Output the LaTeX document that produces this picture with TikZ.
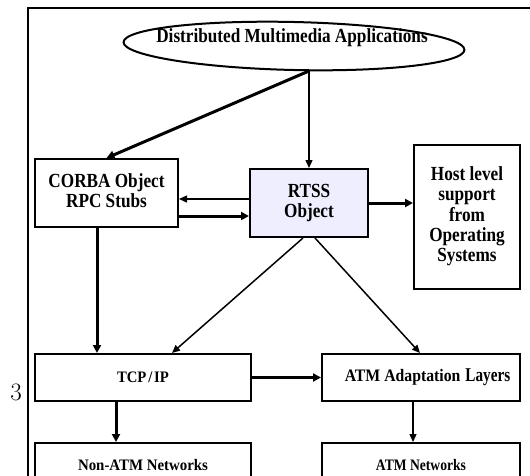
\documentclass[tikz,border=0pt]{standalone}
\usepackage{fontspec}
\setmainfont{Liberation Serif}
\newfontfamily\digitfont{Latin Modern Roman}
\usetikzlibrary{arrows.meta,shapes.geometric,calc}
\definecolor{rtssfill}{RGB}{238,238,255}
% bold, slightly condensed text block
\newcommand{\sqz}[1]{\scalebox{0.86}[1]{\begin{tabular}{@{}c@{}}#1\end{tabular}}}
\tikzset{
  blk/.style={draw, line width=2pt, rectangle, align=center},
  bigtxt/.style={font=\fontsize{20}{20}\selectfont\bfseries},
  smalltxt/.style={font=\fontsize{16}{17}\selectfont\bfseries},
  heavy/.style={line width=3pt, -{Triangle[length=8pt,width=8pt]}},
  medium/.style={line width=1.5pt, -{Triangle[length=8pt,width=7pt]}},
  light/.style={line width=1.3pt, -{Triangle[length=8pt,width=7pt]}},
}
\begin{document}
\begin{tikzpicture}[x=1pt,y=-1pt]
\useasboundingbox (0,0) rectangle (530,475);
\clip (0,0) rectangle (530,475);
% outer frame
\draw[line width=1.8pt] (28,490) -- (28,8) -- (545,8);
\node[font=\digitfont\fontsize{25}{25}\selectfont] (num) at (16,392) {3};

% top-level application layer
\node[draw, ellipse, rotate=-1.3, line width=2pt, minimum width=341pt, minimum height=48pt, inner sep=0pt] (app) at (294,46) {};
\node[bigtxt, inner sep=0pt] (apptxt) at (292,38) {\sqz{Distributed Multimedia Applications}};

% middleware boxes
\node[blk, bigtxt, minimum width=143pt, minimum height=68pt] (corba) at (106.5,193) {\sqz{CORBA Object\\RPC Stubs}};
\node[blk, bigtxt, fill=rtssfill, minimum width=118pt, minimum height=68pt] (rtss) at (309,203) {\sqz{RTSS\\Object}};
\node[blk, bigtxt, minimum width=106pt, minimum height=144pt] (host) at (467,217) {\sqz{Host level\\support\\from\\Operating\\Systems}};

% transport and network boxes
\node[blk, smalltxt, minimum width=216pt, minimum height=47pt] (tcp) at (143,377.5) {\scalebox{0.92}[1]{TCP\kern2pt/\kern2ptIP}};
\node[blk, smalltxt, minimum width=198pt, minimum height=47pt] (aal) at (421,377.5)
  {\hspace*{13pt}\scalebox{0.9}[1]{\fontsize{17.5}{18}\selectfont ATM Adaptation}\hspace{5pt}\scalebox{0.78}[1]{\fontsize{19.5}{20}\selectfont Layers}};
\node[blk, smalltxt, minimum width=216pt, minimum height=44pt] (nonatm) at (143,465) {\scalebox{0.93}[1]{Non-ATM Networks}};
\node[blk, smalltxt, minimum width=198pt, minimum height=44pt] (atmnet) at (421,465) {\scalebox{0.85}[1]{ATM Networks}};

% connectors
\draw[heavy] (rtss.north |- app.south) -- (corba.north);
\draw[light] (rtss.north |- app.south) -- (rtss.north);
\draw[light] (rtss.west |- 0,199) -- (corba.east |- 0,199);
\draw[heavy] (corba.east |- 0,216) -- (rtss.west |- 0,216);
\draw[heavy] (rtss.east) -- (host.west |- rtss.east);
\draw[heavy] (corba.south -| 97,0) -- (tcp.north -| 97,0);
\draw[medium] ($(rtss.south)+(-6,0)$) -- (tcp.north -| 172,0);
\draw[medium] ($(rtss.south)+(6,0)$) -- (aal.north -| 420,0);
\draw[heavy] (tcp.east) -- (aal.west);
\draw[heavy] (tcp.south -| 116,0) -- (nonatm.north -| 116,0);
\draw[light] (aal.south -| 413,0) -- (atmnet.north -| 413,0);
\end{tikzpicture}
\end{document}
